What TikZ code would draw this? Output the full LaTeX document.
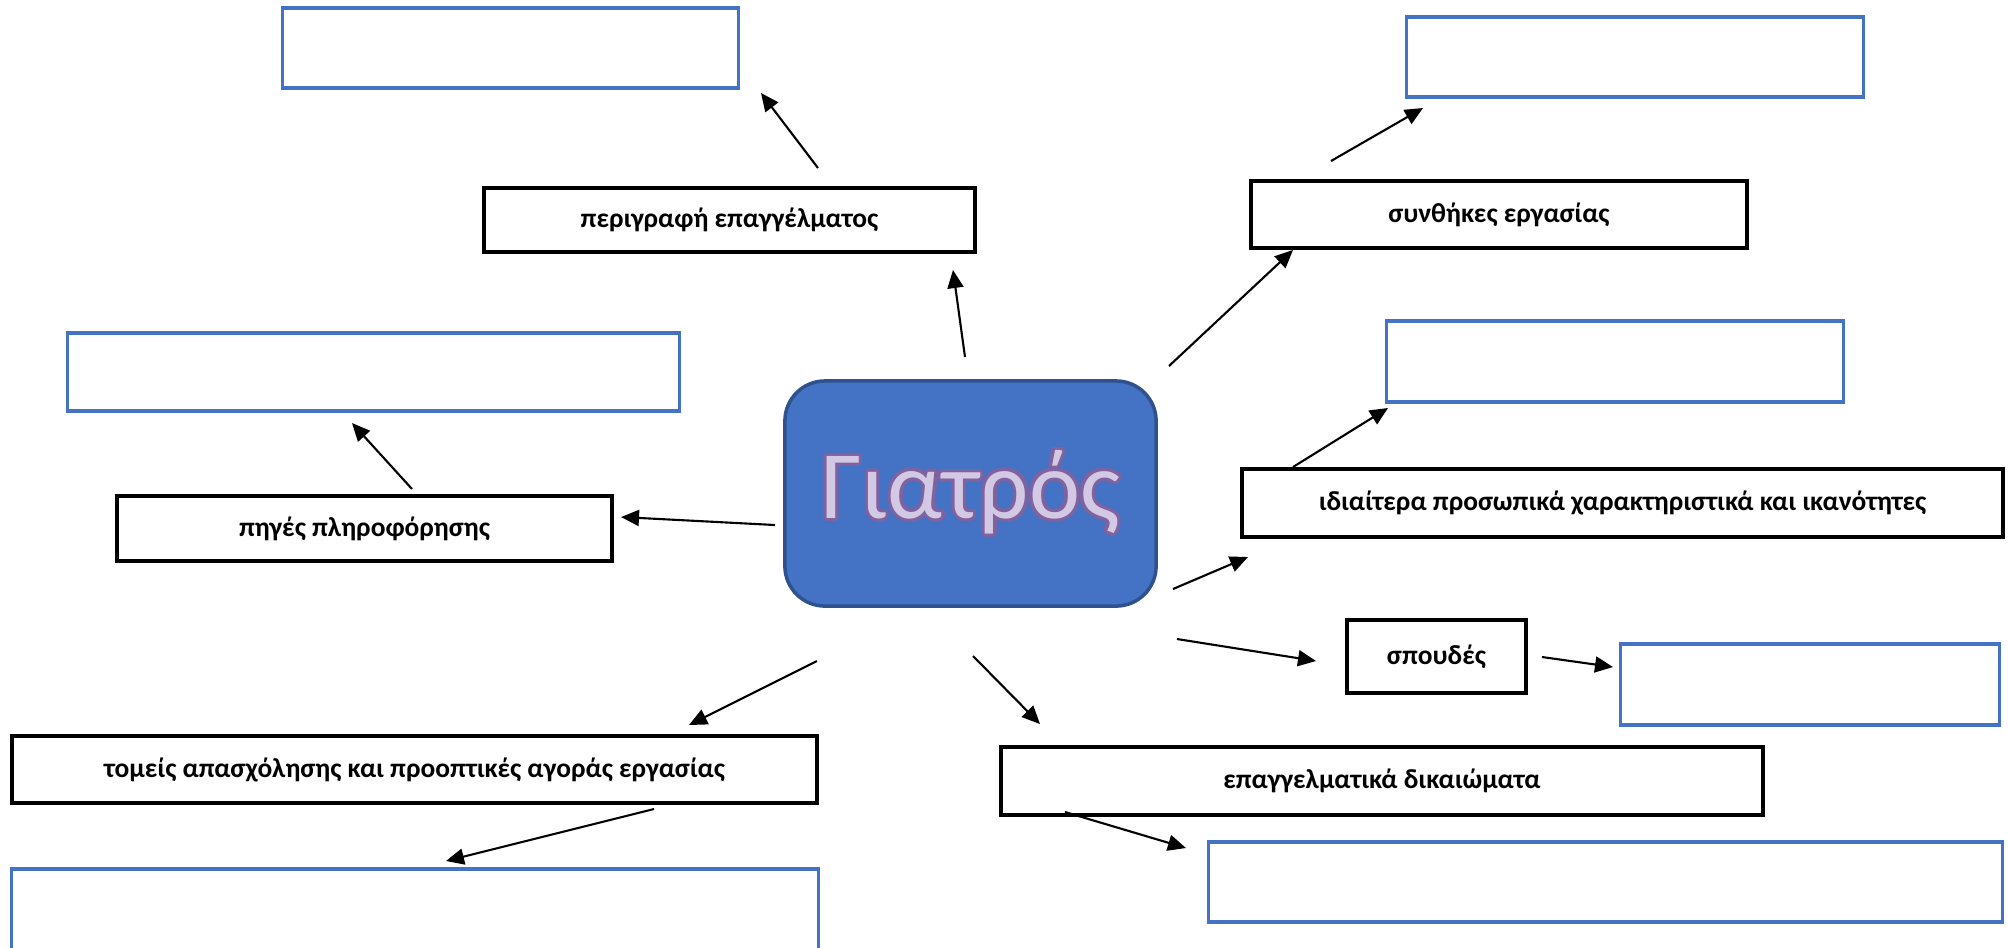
\documentclass[tikz,border=0pt]{standalone}
\usepackage{fontspec}
\setmainfont{Carlito}
\usepackage[copies]{contour}
\usetikzlibrary{arrows.meta,positioning}
\definecolor{docblue}{HTML}{4472C4}
\definecolor{docedge}{HTML}{2F528F}
\definecolor{lilac}{HTML}{D4C9E4}
\definecolor{lilacedge}{HTML}{7E63A0}
\contourlength{0.9pt}

\begin{document}
\begin{tikzpicture}[x=0.01cm, y=-0.01cm,
  topic/.style={draw=black, line width=1pt, fill=white, inner sep=0pt,
    font=\fontsize{7.8}{10}\selectfont\bfseries},
  answer/.style={draw=docblue, line width=0.9pt, inner sep=0pt},
  arr/.style={-{Triangle[length=1.8mm,width=1.6mm]}, line width=0.6pt}]

  \useasboundingbox (0,0) rectangle (2008,947);
  \clip (0,0) rectangle (2008,947);

  % Central node
  \node[draw=docedge, line width=1pt, fill=docblue, rounded corners=0.4cm,
    minimum width=3.71cm, minimum height=2.25cm, inner sep=0pt,
    font=\fontsize{27.5}{30}\selectfont] (doc) at (970.5,493.5)
    {\contour{lilacedge}{\textcolor{lilac}{Γιατρός}}};

  % Topic boxes
  \node[topic, minimum width=4.91cm, minimum height=0.64cm] (desc) at (729.5,220) {περιγραφή επαγγέλματος};
  \node[topic, minimum width=4.96cm, minimum height=0.67cm] (cond) at (1499,214.5) {συνθήκες εργασίας};
  \node[topic, minimum width=4.95cm, minimum height=0.65cm] (info) at (364.5,528.5) {πηγές πληροφόρησης};
  \node[topic, minimum width=7.61cm, minimum height=0.68cm] (traits) at (1622.5,503) {ιδιαίτερα προσωπικά χαρακτηριστικά και ικανότητες};
  \node[topic, minimum width=1.79cm, minimum height=0.73cm] (study) at (1436.5,656.5) {σπουδές};
  \node[topic, minimum width=8.05cm, minimum height=0.67cm] (sectors) at (414.5,769.5) {τομείς απασχόλησης και προοπτικές αγοράς εργασίας};
  \node[topic, minimum width=7.62cm, minimum height=0.68cm] (rights) at (1382,781) {επαγγελματικά δικαιώματα};

  % Empty answer boxes
  \node[answer, minimum width=4.55cm, minimum height=0.80cm] (ansdesc) at (510.5,48) {};
  \node[answer, minimum width=4.56cm, minimum height=0.80cm] (anscond) at (1635,57) {};
  \node[answer, minimum width=6.11cm, minimum height=0.78cm] (ansinfo) at (373.5,372) {};
  \node[answer, minimum width=4.56cm, minimum height=0.81cm] (anstraits) at (1615,361.5) {};
  \node[answer, minimum width=3.78cm, minimum height=0.81cm] (ansstudy) at (1810,684.5) {};
  \node[answer, minimum width=8.06cm, minimum height=1.60cm] (anssectors) at (415,949) {};
  \node[answer, minimum width=7.93cm, minimum height=0.80cm] (ansrights) at (1605.5,882) {};

  % Arrows (free ends)
  \foreach \n/\ax/\ay/\bx/\by in {
      1/965/357/953/270, 2/818/168/761/93, 3/1169/366/1293/250,
      4/1331/161/1423/108, 5/1293/467/1388/408, 6/1173/589/1248/557,
      7/1177/639/1316/661, 8/1542/657/1613/667, 9/973/656/1040/724,
      10/1065/812/1186/848, 11/817/661/689/725, 12/654/809/446/861,
      13/775/525/621/517, 14/412/489/352/423} {
    \coordinate (a\n s) at (\ax,\ay);
    \coordinate (a\n e) at (\bx,\by);
    \draw[arr] (a\n s) -- (a\n e);
  }

\end{tikzpicture}
\end{document}
